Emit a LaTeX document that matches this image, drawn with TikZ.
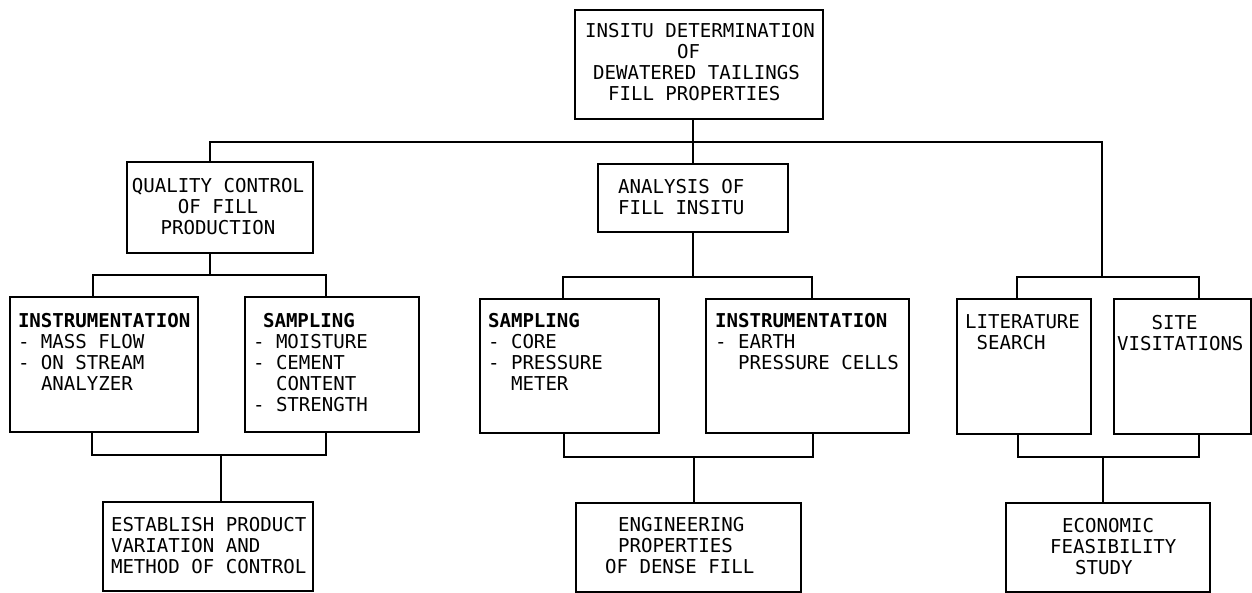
\documentclass[tikz,border=0pt]{standalone}
\usepackage{fontspec}
\newfontfamily\plotfont{DejaVu Sans Mono}
\begin{document}
\begin{tikzpicture}[x=1pt,y=-1pt,
  box/.style={draw=black,line width=1.3pt,rectangle,inner sep=0pt,outer sep=0pt},
  txt/.style={inner sep=0pt,outer sep=0pt,anchor=north west,align=left,font=\plotfont\fontsize{19.1}{21}\selectfont},
  txtc/.style={txt,anchor=north,align=center},
  link/.style={draw=black,line width=1.3pt}]
\useasboundingbox (0,0) rectangle (1252,593);
% boxes
\node[box,minimum width=248pt,minimum height=109pt] (top) at (699,64.5) {};
\node[box,minimum width=186pt,minimum height=91pt] (qc) at (220,207.5) {};
\node[box,minimum width=190pt,minimum height=68pt] (ana) at (693,198) {};
\node[box,minimum width=188pt,minimum height=135pt] (linst) at (104,364.5) {};
\node[box,minimum width=174pt,minimum height=135pt] (lsamp) at (332,364.5) {};
\node[box,minimum width=179pt,minimum height=134pt] (msamp) at (569.5,366) {};
\node[box,minimum width=203pt,minimum height=134pt] (minst) at (807.5,366) {};
\node[box,minimum width=134pt,minimum height=135pt] (lit) at (1024,366.5) {};
\node[box,minimum width=137pt,minimum height=135pt] (site) at (1182.5,366.5) {};
\node[box,minimum width=210pt,minimum height=89pt] (est) at (208,546.5) {};
\node[box,minimum width=225pt,minimum height=89pt] (eng) at (688.5,547.5) {};
\node[box,minimum width=204pt,minimum height=89pt] (eco) at (1108,547.5) {};
% texts
\node[txt] (ttop) at (585,23) {INSITU DETERMINATION\\\hspace*{92pt}OF\\\hspace*{8pt}DEWATERED TAILINGS\\\hspace*{23pt}FILL PROPERTIES};
\node[txtc] (tqc) at (218,178) {QUALITY CONTROL\\OF FILL\\PRODUCTION};
\node[txt] (tana) at (618,179) {ANALYSIS OF\\FILL INSITU};
\node[txt] (tlinst) at (18,313) {\bfseries INSTRUMENTATION\\- MASS FLOW\\- ON STREAM\\\hspace*{23pt}ANALYZER};
\node[txt] (tlsamp) at (253,313) {\hspace*{10pt}\bfseries SAMPLING\\- MOISTURE\\- CEMENT\\\hspace*{23pt}CONTENT\\- STRENGTH};
\node[txt] (tmsamp) at (488,313) {\bfseries SAMPLING\\- CORE\\- PRESSURE\\\hspace*{23pt}METER};
\node[txt] (tminst) at (715,313) {\bfseries INSTRUMENTATION\\- EARTH\\\hspace*{23pt}PRESSURE CELLS};
\node[txt] (tlit) at (965,315) {LITERATURE\\\hspace*{11.5pt}SEARCH};
\node[txt] (tsite) at (1117,315) {\hspace*{34.5pt}SITE\\VISITATIONS};
\node[txt] (test) at (111,517) {ESTABLISH PRODUCT\\VARIATION AND\\METHOD OF CONTROL};
\node[txt] (teng) at (605,517) {\hspace*{13pt}ENGINEERING\\\hspace*{13pt}PROPERTIES\\OF DENSE FILL};
\node[txt] (teco) at (1050,518) {\hspace*{12pt}ECONOMIC\\FEASIBILITY\\\hspace*{25pt}STUDY};
% junctions
\coordinate (bus) at (693,142);
\coordinate (lj) at (210,275);
\coordinate (mj) at (693,277);
\coordinate (rj) at (1102,277);
\coordinate (lb) at (221,455);
\coordinate (mb) at (694,457);
\coordinate (rb) at (1103,457);
% connectors
\draw[link] ([xshift=-6pt]top.south) -- (bus);
\draw[link] ([xshift=-10pt]qc.north) |- (bus) -| (rj);
\draw[link] (bus) -- (ana.north);
\draw[link] ([xshift=-10pt]qc.south) -- (lj);
\draw[link] ([xshift=-11pt]linst.north) |- (lj) -| ([xshift=-6pt]lsamp.north);
\draw[link] ([xshift=-12pt]linst.south) |- (lb) -| ([xshift=-6pt]lsamp.south);
\draw[link] (lb) -- ([xshift=13pt]est.north);
\draw[link] (ana.south) -- (mj);
\draw[link] ([xshift=-6.5pt]msamp.north) |- (mj) -| ([xshift=4.5pt]minst.north);
\draw[link] ([xshift=-5.5pt]msamp.south) |- (mb) -| ([xshift=5.5pt]minst.south);
\draw[link] (mb) -- ([xshift=5.5pt]eng.north);
\draw[link] ([xshift=-7pt]lit.north) |- (rj) -| ([xshift=16.5pt]site.north);
\draw[link] ([xshift=-6pt]lit.south) |- (rb) -| ([xshift=16.5pt]site.south);
\draw[link] (rb) -- ([xshift=-5pt]eco.north);
\end{tikzpicture}
\end{document}
